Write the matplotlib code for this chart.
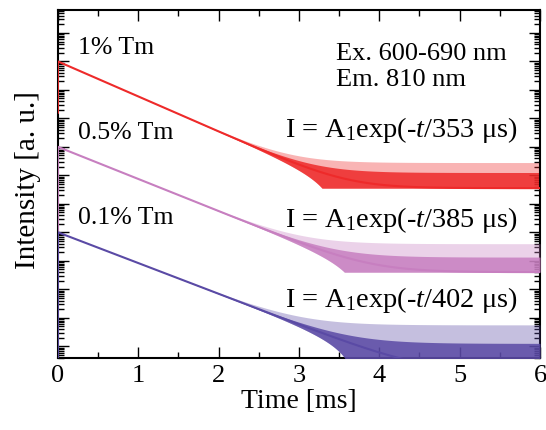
import numpy as np
import matplotlib
matplotlib.use("Agg")
import matplotlib.pyplot as plt
from matplotlib.ticker import LogLocator, NullFormatter, MultipleLocator

plt.rcParams["font.family"] = ["Liberation Serif", "DejaVu Serif"]
plt.rcParams["mathtext.fontset"] = "custom"
plt.rcParams["mathtext.rm"] = "Liberation Serif"
plt.rcParams["mathtext.it"] = "Liberation Serif:italic"

# Samples: Tm concentration, fitted lifetime (µs), peak intensity and
# background / scatter levels (log10, arbitrary units, curves offset)
samples = ["1% Tm", "0.5% Tm", "0.1% Tm"]
tau_us = [353, 385, 402]
peak_log = [10.0, 7.0, 4.0]
start_log = [8.2, 2.6, -0.9]
base_log = [5.55, 2.6, -0.9]
dense_log = [6.1, 3.13, 0.1]
spike_log = [6.45, 3.6, 0.75]
colors = ["#ee2a2a", "#c77fc0", "#5a4aa5"]

t_ms = np.linspace(0, 6, 2401)

fig = plt.figure(figsize=(5.46, 4.30), dpi=100)
ax = fig.add_axes([0.106, 0.167, 0.883, 0.810])

order = [2, 1, 0]
for i in order:
    A = 10 ** peak_log[i]
    base = 10 ** base_log[i]
    n_dense = 10 ** dense_log[i] - base
    n_spike = 10 ** spike_log[i] - base
    signal = A * np.exp(-t_ms * 1000.0 / tau_us[i])
    center = signal + base
    lower = np.maximum(center - n_dense, base)
    up_dense = center + n_dense
    up_spike = center + n_spike
    c = colors[i]
    ax.fill_between(t_ms, lower, up_spike, color=c, alpha=0.35, lw=0, zorder=2 + i)
    ax.fill_between(t_ms, lower, up_dense, color=c, alpha=0.85, lw=0, zorder=2 + i)
    tt = np.concatenate([[0.0], t_ms])
    yy = np.concatenate([[10 ** start_log[i]], center])
    ax.plot(tt, yy, color=c, lw=1.5, zorder=3 + i)

ax.set_yscale("log")
ax.set_xlim(0, 6)
ax.set_ylim(10 ** -0.42, 10 ** 11.81)

ax.xaxis.set_major_locator(MultipleLocator(1))
ax.xaxis.set_minor_locator(MultipleLocator(0.5))
ax.yaxis.set_major_locator(LogLocator(base=10, subs=(1.0,), numticks=100))
ax.yaxis.set_minor_locator(LogLocator(base=10, subs=np.arange(2, 10), numticks=100))
ax.yaxis.set_major_formatter(NullFormatter())
ax.yaxis.set_minor_formatter(NullFormatter())

ax.tick_params(which="both", direction="in", top=True, right=True, width=1.0)
ax.tick_params(which="major", length=8, labelsize=19, pad=5)
ax.tick_params(which="minor", length=4.5)
for s in ax.spines.values():
    s.set_linewidth(1.5)

ax.set_xlabel("Time [ms]", fontsize=20, labelpad=1)
ax.set_ylabel("Intensity [a. u.]", fontsize=21)
ax.yaxis.set_label_coords(-0.035, 0.51)

label_y = [10.47, 7.49, 4.5]
for i, name in enumerate(samples):
    ax.text(0.25, 10 ** label_y[i], name, fontsize=18.5, va="center", ha="left")

ax.text(0.932, 0.835, "Ex. 600-690 nm\nEm. 810 nm", transform=ax.transAxes,
        fontsize=19, ha="right", va="center", linespacing=1.25, multialignment="left")

fit_y = [7.59, 4.43, 1.62]
for i in range(3):
    ax.text(5.72, 10 ** fit_y[i],
            "I = A$_1$exp(-$t$/%d $\\mathrm{\\mu}$s)" % tau_us[i],
            fontsize=20.4, ha="right", va="center")

fig.savefig("out.png", dpi=100)
